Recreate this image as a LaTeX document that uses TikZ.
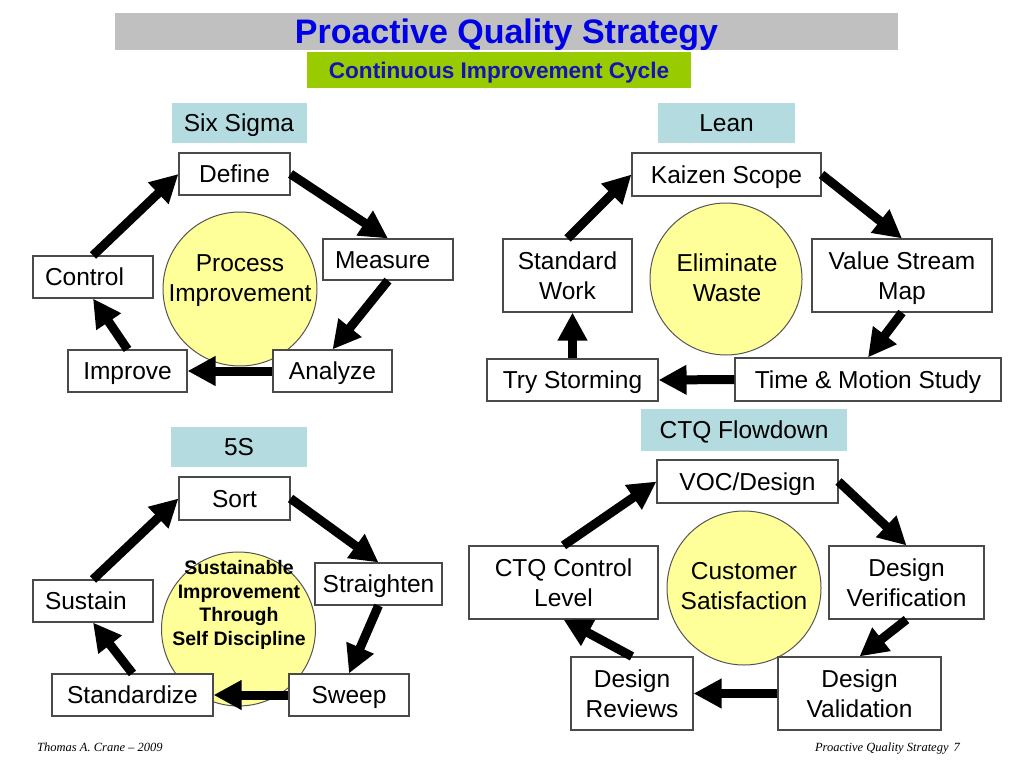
\documentclass[tikz,border=0pt]{standalone}
\usepackage{fontspec}
\setmainfont{Liberation Sans}
\newfontfamily\footfont{Liberation Serif}
\usetikzlibrary{arrows.meta}
\definecolor{bargray}{HTML}{C0C0C0}
\definecolor{titleblue}{HTML}{0000E8}
\definecolor{subblue}{HTML}{1414B4}
\definecolor{subgreen}{HTML}{99CC00}
\definecolor{tagteal}{HTML}{B4DCE0}
\definecolor{hubfill}{HTML}{FFFF99}
\definecolor{hubline}{HTML}{555555}
\definecolor{boxline}{HTML}{4A4A4A}
\begin{document}
\begin{tikzpicture}[x=1pt,y=-1pt,
  box/.style={draw=boxline, line width=1.1pt, fill=white, inner sep=0pt,
    font=\fontsize{24.5}{30}\selectfont, align=center, text depth=0pt},
  one/.style={text height=17.5pt},
  lefty/.style={align=left, inner xsep=12pt, text width=#1},
  tag/.style={fill=tagteal, inner sep=0pt, font=\fontsize{24.5}{30}\selectfont,
    text height=17.5pt, text depth=0pt},
  hub/.style={circle, draw=hubline, line width=1pt, fill=hubfill, inner sep=0pt},
  hubtext/.style={font=\fontsize{24.5}{30}\selectfont, align=center, text depth=0pt, inner sep=0pt},
  flow/.style={line width=9pt, -{Triangle[length=28pt,width=28pt]}},
  foot/.style={font=\footfont\itshape\fontsize{12.5}{15}\selectfont, inner sep=0pt},
]
\useasboundingbox (0,0) rectangle (1024,768);
\fill[white] (0,0) rectangle (1024,768);

% header
\node[fill=bargray, inner sep=0pt, minimum width=783pt, minimum height=37pt,
  font=\bfseries\fontsize{34}{40}\selectfont, text=titleblue,
  text height=24.3pt, text depth=0pt] (bar) at (506.5,31.5) {Proactive Quality Strategy};
\node[fill=subgreen, inner sep=0pt, minimum width=384pt, minimum height=36pt,
  font=\bfseries\fontsize{22.6}{26}\selectfont, text=subblue,
  text height=16.2pt, text depth=0pt] (sub) at (499,70) {Continuous Improvement Cycle};

% ---------- Six Sigma ----------
\node[tag, minimum width=135pt, minimum height=40pt] (sstag) at (239,123) {Six Sigma};
\node[hub, minimum size=154pt] (sshub) at (240,289) {};
\node[hubtext] (sstext) at (240,278.5) {Process\\Improvement};
\node[box, one, minimum width=111pt, minimum height=42pt] (define) at (234.5,174) {Define};
\node[box, one, lefty=106pt, minimum height=41pt] (measure) at (388,259.5) {Measure};
\node[box, one, lefty=96pt, minimum height=42pt] (control) at (93,277) {Control};
\node[box, one, minimum width=119pt, minimum height=42pt] (improve) at (127.5,371) {Improve};
\node[box, one, minimum width=119pt, minimum height=42pt] (analyze) at (332.5,371) {Analyze};
\draw[flow] (define.east) -- (measure.north);
\draw[flow] (measure.south) -- (analyze.north);
\draw[flow] (analyze.west) -- (improve.east);
\draw[flow] (improve.north) -- (control.south);
\draw[flow] (control.north) -- (define.west);

% ---------- Lean ----------
\node[tag, minimum width=137pt, minimum height=40pt] (leantag) at (726.5,123) {Lean};
\node[hub, minimum size=152pt] (leanhub) at (726,279) {};
\node[hubtext] (leantext) at (727,278) {Eliminate\\Waste};
\node[box, one, minimum width=189pt, minimum height=43pt] (kaizen) at (726.5,174.5) {Kaizen Scope};
\node[box, minimum width=129pt, minimum height=73pt] (stdwork) at (567.5,275.5) {Standard\\Work};
\node[box, minimum width=180pt, minimum height=73pt] (vsm) at (902,275.5) {Value Stream\\Map};
\node[box, one, minimum width=171pt, minimum height=42pt] (trystorm) at (572.5,380) {Try Storming};
\node[box, one, minimum width=266pt, minimum height=43pt] (motion) at (868,379.5) {Time \& Motion Study};
\draw[flow] (kaizen.east) -- (vsm.north);
\draw[flow] (vsm.south) -- (motion.north);
\draw[flow] (motion.west) -- (trystorm.east);
\draw[flow] (trystorm.north) -- (trystorm.north |- stdwork.south);
\draw[flow] (stdwork.north) -- (kaizen.west);

% ---------- 5S ----------
\node[tag, minimum width=136pt, minimum height=40pt] (fivetag) at (239,447) {5S};
\node[hub, minimum size=154pt] (fivehub) at (238.5,629) {};
\node[hubtext, font=\bfseries\fontsize{19.5}{23.8}\selectfont] (fivetext) at (239,603)
  {Sustainable\\Improvement\\Through\\Self Discipline};
\node[box, one, minimum width=111pt, minimum height=43pt] (sort) at (234.5,498.5) {Sort};
\node[box, one, minimum width=127pt, minimum height=42pt] (straighten) at (378.5,584) {Straighten};
\node[box, one, lefty=96pt, minimum height=42pt] (sustain) at (93,601) {Sustain};
\node[box, one, minimum width=161pt, minimum height=42pt] (standardize) at (132.5,695) {Standardize};
\node[box, one, minimum width=120pt, minimum height=42pt] (sweep) at (349,695) {Sweep};
\draw[flow] (sort.east) -- (straighten.north);
\draw[flow] (straighten.south) -- (sweep.north);
\draw[flow] (sweep.west) -- (standardize.east);
\draw[flow] (standardize.north) -- (sustain.south);
\draw[flow] (sustain.north) -- (sort.west);

% ---------- CTQ Flowdown ----------
\node[tag, minimum width=206pt, minimum height=42pt] (ctqtag) at (744,430) {CTQ Flowdown};
\node[hub, minimum size=154pt] (ctqhub) at (744,588) {};
\node[hubtext] (ctqtext) at (744,586) {Customer\\Satisfaction};
\node[box, one, minimum width=181pt, minimum height=43pt] (voc) at (747.5,481.5) {VOC/Design};
\node[box, minimum width=189pt, minimum height=73pt] (ctqctl) at (563.5,582.5) {CTQ Control\\Level};
\node[box, minimum width=155pt, minimum height=73pt] (verif) at (906.5,582.5) {Design\\Verification};
\node[box, minimum width=122pt, minimum height=73pt] (reviews) at (632,693.5) {Design\\Reviews};
\node[box, minimum width=163pt, minimum height=73pt] (valid) at (859.5,693.5) {Design\\Validation};
\draw[flow] (voc.east) -- (verif.north);
\draw[flow] (verif.south) -- (valid.north);
\draw[flow] (valid.west) -- (reviews.east);
\draw[flow] (reviews.north) -- (ctqctl.south);
\draw[flow] (ctqctl.north) -- (voc.west);

% footer
\node[foot, anchor=base west] (footl) at (37,751) {Thomas A. Crane – 2009};
\node[foot, anchor=base east] (footr) at (960,751) {Proactive Quality Strategy\hspace{5pt}7};
\end{tikzpicture}
\end{document}
